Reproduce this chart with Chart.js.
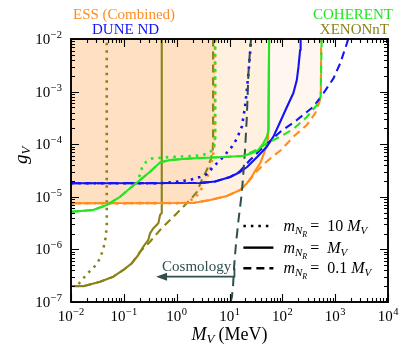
<!DOCTYPE html>
<html><head><meta charset="utf-8">
<script src="https://cdn.jsdelivr.net/npm/chart.js@4/dist/chart.umd.min.js"></script>
<style>html,body{margin:0;padding:0;background:#fff}#wrap{width:407px;height:358px;position:relative}</style>
</head><body><div id="wrap"><canvas id="c" width="407" height="358"></canvas></div>
<script>
// ---- axis ticks ----
const xTickValues = [1e-2, 1e-1, 1, 1e1, 1e2, 1e3, 1e4];
const xTickExps = ['\u22122', '\u22121', '0', '1', '2', '3', '4'];
const yTickValues = [1e-7, 1e-6, 1e-5, 1e-4, 1e-3, 1e-2];
const yTickExps = ['\u22127', '\u22126', '\u22125', '\u22124', '\u22123', '\u22122'];

// ---- XENONnT ----
const xenonDottedX = [0.0139, 0.018, 0.0239, 0.031, 0.0362, 0.0413, 0.045, 0.0475, 0.0475];
const xenonDottedY = [2.2e-7, 2.99e-7, 4.06e-7, 5.27e-7, 7.18e-7, 1.06e-6, 1.65e-6, 2.79e-6, 1e-2];
const xenonSolidX = [0.01, 0.0171, 0.0354, 0.0632, 0.098, 0.141, 0.188, 0.234, 0.291, 0.313, 0.362, 0.45, 0.485, 0.522, 0.522];
const xenonSolidY = [2.01e-7, 2.0e-7, 2.43e-7, 3.03e-7, 4.06e-7, 5.44e-7, 7.83e-7, 1.13e-6, 1.51e-6, 2.02e-6, 2.52e-6, 3.13e-6, 4.51e-6, 4.92e-6, 1e-2];
const xenonDashedX = [0.01, 0.0171, 0.0354, 0.0632, 0.098, 0.141, 0.203, 0.313, 0.485, 0.75, 1.16, 1.79, 2.40, 2.99, 3.72, 4.48, 4.83, 4.89, 4.89];
const xenonDashedY = [2.01e-7, 2.0e-7, 2.43e-7, 3.03e-7, 4.06e-7, 5.44e-7, 9.04e-7, 1.40e-6, 2.34e-6, 3.62e-6, 5.61e-6, 8.69e-6, 1.23e-5, 2.09e-5, 3.23e-5, 5.40e-5, 7.76e-5, 1.2e-4, 1e-2];

// ---- COHERENT ----
const cohSolidX = [0.01, 0.0261, 0.0475, 0.0848, 0.131, 0.203, 0.313, 0.485, 0.75, 1.79, 4.89, 18.1, 26.4, 35.2, 43.8, 50.8, 55.0, 56.2];
const cohSolidY = [5.21e-6, 5.61e-6, 6.98e-6, 1.0e-5, 1.45e-5, 2.09e-5, 3.0e-5, 4.49e-5, 5.01e-5, 5.35e-5, 5.58e-5, 5.97e-5, 6.71e-5, 7.76e-5, 1.04e-4, 1.39e-4, 1.86e-4, 1e-2];
const cohDottedX = [0.194, 0.221, 0.263, 0.342, 0.75, 2.23, 3.77, 4.89, 5.34, 5.34];
const cohDottedY = [2.38e-5, 3.53e-5, 4.59e-5, 5.35e-5, 5.71e-5, 5.97e-5, 6.52e-5, 7.76e-5, 1.2e-4, 1e-2];
const cohDashedX = [0.01, 0.0261, 0.0475, 0.0848, 0.131, 0.203, 0.313, 0.485, 0.75, 1.79, 4.89, 18.1, 26.4, 34.8, 50.8, 90.8, 162, 291, 450, 531, 555];
const cohDashedY = [5.21e-6, 5.61e-6, 6.98e-6, 1.0e-5, 1.45e-5, 2.09e-5, 3.0e-5, 4.49e-5, 5.01e-5, 5.35e-5, 5.58e-5, 5.97e-5, 7.09e-5, 8.11e-5, 1.04e-4, 1.39e-4, 1.95e-4, 3.29e-4, 5.56e-4, 7.88e-4, 1e-2];

// ---- ESS (Combined) ----
const essSolidX = [0.01, 2.05, 4.30, 9.02, 15.9, 21.5, 26.4, 30.5, 38.0, 43.9, 49.3, 53.8, 56.2];
const essSolidY = [7.52e-6, 7.62e-6, 8.69e-6, 1.04e-5, 1.35e-5, 1.81e-5, 2.41e-5, 3.10e-5, 4.34e-5, 6.24e-5, 8.96e-5, 1.31e-4, 1e-2];
const essDottedX = [0.01, 1.44, 2.23, 3.03, 3.77, 4.30, 4.79, 5.11, 5.34, 5.34];
const essDottedY = [7.52e-6, 7.6e-6, 9.48e-6, 1.47e-5, 2.28e-5, 3.53e-5, 5.47e-5, 8.47e-5, 1.4e-4, 1e-2];
const essDashedX = [0.01, 2.05, 4.30, 9.02, 15.9, 21.5, 26.8, 33.3, 47.2, 64.1, 94.9, 160, 291, 418, 505, 536, 543];
const essDashedY = [7.52e-6, 7.62e-6, 8.69e-6, 1.04e-5, 1.35e-5, 1.81e-5, 2.38e-5, 3.10e-5, 4.40e-5, 5.71e-5, 7.76e-5, 1.37e-4, 2.32e-4, 3.86e-4, 6.43e-4, 8.0e-4, 1e-2];

// ---- DUNE ND ----
const duneSolidX = [0.01, 2.77, 5.34, 10.3, 15.9, 21.5, 33.3, 50.8, 67.8, 90.8, 122, 162, 188, 202, 217, 222];
const duneSolidY = [1.81e-5, 1.83e-5, 1.95e-5, 2.38e-5, 2.96e-5, 3.69e-5, 5.71e-5, 8.96e-5, 1.39e-4, 2.64e-4, 5.10e-4, 9.40e-4, 1.66e-3, 2.94e-3, 6.17e-3, 1e-2];
const duneDottedX = [0.01, 0.485, 0.933, 1.79, 2.77, 3.77, 4.96, 7.66, 11.1, 13.7, 17.1, 19.7, 21.3, 22.8, 24.5, 25.6];
const duneDottedY = [1.81e-5, 1.81e-5, 1.91e-5, 2.09e-5, 2.38e-5, 2.71e-5, 3.73e-5, 5.78e-5, 8.96e-5, 1.26e-4, 2.15e-4, 5.16e-4, 1.07e-3, 2.23e-3, 5.35e-3, 1e-2];
const duneDashedX = [0.01, 2.77, 5.34, 10.3, 15.9, 24.5, 38.0, 58.8, 90.8, 188, 388, 600, 929, 1245, 1667, 1763];
const duneDashedY = [1.81e-5, 1.83e-5, 1.95e-5, 2.38e-5, 3.09e-5, 5.01e-5, 7.76e-5, 1.15e-4, 1.71e-4, 2.88e-4, 5.16e-4, 9.29e-4, 1.79e-3, 3.45e-3, 8.28e-3, 1e-2];

// ---- Cosmology ----
const cosmoX = [10.5, 11.1, 11.7, 12.2, 13.3, 14.8, 17.1, 18.3, 19.7, 21.3, 22.8, 24.5, 25.6];
const cosmoY = [1e-7, 1.24e-7, 2.10e-7, 4.63e-7, 1.32e-6, 3.62e-6, 1.18e-5, 2.83e-5, 7.76e-5, 3.33e-4, 2.23e-3, 6.17e-3, 1e-2];

// ---- annotation anchors (data coords) ----
const cosmoArrow = {xTip: 0.407, xEnd: 12.4, y: 3.03e-7, yTop: 4.43e-7, textX: 2.39, textY: 3.88e-7};
const legendPos = {x0: 18.3, x1: 67.8, xText: 105, rows: [2.79e-6, 1.08e-6, 4.38e-7]};

const C_ESS = '#ff8c1e', C_DUNE = '#1414f0', C_COH = '#22e622', C_XEN = '#8a8218', C_COS = '#2f4f4f';
const SERIF = '"Liberation Serif", "DejaVu Serif", serif';

function mk(label, xs, ys, color, style, extra) {
  const dash = style === 'dotted' ? [2.5, 5] : style === 'dashed' ? [8, 5] : [];
  return Object.assign({
    label: label,
    data: xs.map((x, i) => ({x: x, y: ys[i]})),
    borderColor: color,
    backgroundColor: color,
    borderWidth: style === 'dotted' ? 2.6 : 2.1,
    borderDash: dash,
    borderCapStyle: 'butt',
    borderJoinStyle: 'round',
    pointRadius: 0,
    showLine: true,
    fill: false,
    tension: 0
  }, extra || {});
}
const essFillLight = {fill: 'end', backgroundColor: 'rgba(255,140,30,0.07)'};
const essFillDark = {fill: 'end', backgroundColor: 'rgba(255,140,30,0.15)'};

const datasets = [
  mk('COHERENT solid', cohSolidX, cohSolidY, C_COH, 'solid'),
  mk('COHERENT dotted', cohDottedX, cohDottedY, C_COH, 'dotted'),
  mk('COHERENT dashed', cohDashedX, cohDashedY, C_COH, 'dashed'),
  mk('Cosmology', cosmoX, cosmoY, C_COS, 'dashed', {borderDash: [10, 6], borderWidth: 2}),
  mk('DUNE solid', duneSolidX, duneSolidY, C_DUNE, 'solid'),
  mk('DUNE dotted', duneDottedX, duneDottedY, C_DUNE, 'dotted'),
  mk('DUNE dashed', duneDashedX, duneDashedY, C_DUNE, 'dashed'),
  mk('ESS solid', essSolidX, essSolidY, C_ESS, 'solid', essFillLight),
  mk('ESS dotted', essDottedX, essDottedY, C_ESS, 'dotted', essFillDark),
  mk('ESS dashed', essDashedX, essDashedY, C_ESS, 'dashed', essFillLight),
  mk('XENONnT solid', xenonSolidX, xenonSolidY, C_XEN, 'solid'),
  mk('XENONnT dotted', xenonDottedX, xenonDottedY, C_XEN, 'dotted'),
  mk('XENONnT dashed', xenonDashedX, xenonDashedY, C_XEN, 'dashed')
];

function font(size, italic) { return (italic ? 'italic ' : '') + size + 'px ' + SERIF; }
function drawParts(ctx, x, y, parts) {
  let cx = x;
  for (const p of parts) {
    ctx.font = font(p.s, p.it);
    ctx.fillText(p.t, cx, y + (p.dy || 0));
    cx += ctx.measureText(p.t).width + (p.gap || 0);
  }
  return cx;
}
function partsWidth(ctx, parts) {
  let w = 0;
  for (const p of parts) { ctx.font = font(p.s, p.it); w += ctx.measureText(p.t).width + (p.gap || 0); }
  return w;
}
function powParts(exp, big, small) {
  return [{t: '10', s: big, gap: 0.5}, {t: exp, s: small, dy: -6}];
}

const decor = {
  id: 'decor',
  afterDraw(chart) {
    const ctx = chart.ctx, a = chart.chartArea;
    const xs = chart.scales.x, ys = chart.scales.y;
    ctx.save();
    ctx.strokeStyle = '#000';
    ctx.fillStyle = '#000';
    // ticks (inward on all sides)
    ctx.lineWidth = 1.1;
    ctx.beginPath();
    for (let n = -2; n <= 4; n++) {
      for (let k = 1; k <= 9; k++) {
        const v = k * Math.pow(10, n);
        if (v > 1e4 * 1.0001) continue;
        const px = Math.round(xs.getPixelForValue(v)) + 0.5;
        const L = k === 1 ? 8 : 4;
        ctx.moveTo(px, a.bottom); ctx.lineTo(px, a.bottom - L);
        ctx.moveTo(px, a.top); ctx.lineTo(px, a.top + L);
      }
    }
    for (let n = -7; n <= -2; n++) {
      for (let k = 1; k <= 9; k++) {
        const v = k * Math.pow(10, n);
        if (v > 1e-2 * 1.0001) continue;
        const py = Math.round(ys.getPixelForValue(v)) + 0.5;
        const L = k === 1 ? 8 : 4;
        ctx.moveTo(a.left, py); ctx.lineTo(a.left + L, py);
        ctx.moveTo(a.right, py); ctx.lineTo(a.right - L, py);
      }
    }
    ctx.stroke();
    // frame
    ctx.lineWidth = 1.9;
    ctx.strokeRect(a.left, a.top, a.right - a.left, a.bottom - a.top);

    // tick labels
    ctx.textBaseline = 'alphabetic';
    ctx.textAlign = 'left';
    xTickValues.forEach((v, i) => {
      const parts = powParts(xTickExps[i], 15, 10.5);
      const w = partsWidth(ctx, parts);
      drawParts(ctx, xs.getPixelForValue(v) - w / 2, a.bottom + 19, parts);
    });
    yTickValues.forEach((v, i) => {
      const parts = powParts(yTickExps[i], 15, 10.5);
      const w = partsWidth(ctx, parts);
      drawParts(ctx, a.left - 9 - w, ys.getPixelForValue(v) + 5, parts);
    });

    // axis titles
    const xt = [{t: 'M', s: 18, it: true}, {t: 'V', s: 13, it: true, dy: 3, gap: 4}, {t: '(MeV)', s: 18}];
    const xw = partsWidth(ctx, xt);
    drawParts(ctx, (a.left + a.right) / 2 - xw / 2, 340, xt);
    ctx.save();
    ctx.translate(27, 164);
    ctx.rotate(-Math.PI / 2);
    drawParts(ctx, 0, 0, [{t: 'g', s: 19, it: true}, {t: 'V', s: 13, it: true, dy: 3}]);
    ctx.restore();

    // top labels
    ctx.font = font(15);
    ctx.fillStyle = C_ESS; ctx.textAlign = 'left'; ctx.fillText('ESS (Combined)', 73, 19);
    ctx.fillStyle = C_DUNE; ctx.fillText('DUNE ND', 92, 34);
    ctx.textAlign = 'right';
    ctx.fillStyle = C_COH; ctx.fillText('COHERENT', 393, 19);
    ctx.fillStyle = C_XEN; ctx.fillText('XENONnT', 389, 34);
    ctx.textAlign = 'left';

    // cosmology annotation
    ctx.fillStyle = C_COS; ctx.strokeStyle = C_COS;
    ctx.font = font(15);
    ctx.textAlign = 'center';
    ctx.fillText('Cosmology', xs.getPixelForValue(cosmoArrow.textX), ys.getPixelForValue(cosmoArrow.textY));
    ctx.textAlign = 'left';
    const ay = ys.getPixelForValue(cosmoArrow.y);
    const xTip = xs.getPixelForValue(cosmoArrow.xTip), xEnd = xs.getPixelForValue(cosmoArrow.xEnd);
    ctx.lineWidth = 1.8;
    ctx.beginPath();
    ctx.moveTo(xTip + 8, ay); ctx.lineTo(xEnd, ay); ctx.lineTo(xEnd, ys.getPixelForValue(cosmoArrow.yTop));
    ctx.stroke();
    ctx.beginPath();
    ctx.moveTo(xTip, ay); ctx.lineTo(xTip + 11, ay - 4); ctx.lineTo(xTip + 11, ay + 4); ctx.closePath();
    ctx.fill();

    // legend
    ctx.strokeStyle = '#000'; ctx.fillStyle = '#000';
    const lx0 = xs.getPixelForValue(legendPos.x0), lx1 = xs.getPixelForValue(legendPos.x1);
    const tx = xs.getPixelForValue(legendPos.xText);
    const styles = [[2.5, 5], [], [8, 5]];
    const rhs = ['10 ', '', '0.1 '];
    legendPos.rows.forEach((yv, i) => {
      const py = ys.getPixelForValue(yv);
      ctx.setLineDash(styles[i]);
      ctx.lineWidth = 2.4;
      ctx.beginPath(); ctx.moveTo(lx0, py); ctx.lineTo(lx1, py); ctx.stroke();
      ctx.setLineDash([]);
      const parts = [
        {t: 'm', s: 16, it: true},
        {t: 'N', s: 11, it: true, dy: 3},
        {t: 'R', s: 8, it: true, dy: 6, gap: 3},
        {t: '=', s: 16, gap: 4},
        {t: ' ' + rhs[i], s: 16},
        {t: 'M', s: 16, it: true},
        {t: 'V', s: 11, it: true, dy: 3}
      ];
      drawParts(ctx, tx, py + 5, parts);
    });
    ctx.restore();
  }
};

new Chart(document.getElementById('c'), {
  type: 'scatter',
  data: {datasets: datasets},
  options: {
    responsive: false,
    animation: false,
    devicePixelRatio: 1,
    layout: {padding: {left: 71, top: 39, right: 19, bottom: 56}},
    scales: {
      x: {type: 'logarithmic', min: 1e-2, max: 1e4, display: false},
      y: {type: 'logarithmic', min: 1e-7, max: 1e-2, display: false}
    },
    plugins: {
      legend: {display: false},
      tooltip: {enabled: false},
      filler: {drawTime: 'beforeDatasetsDraw'}
    },
    elements: {line: {tension: 0}}
  },
  plugins: [decor]
});
</script>
</body></html>
